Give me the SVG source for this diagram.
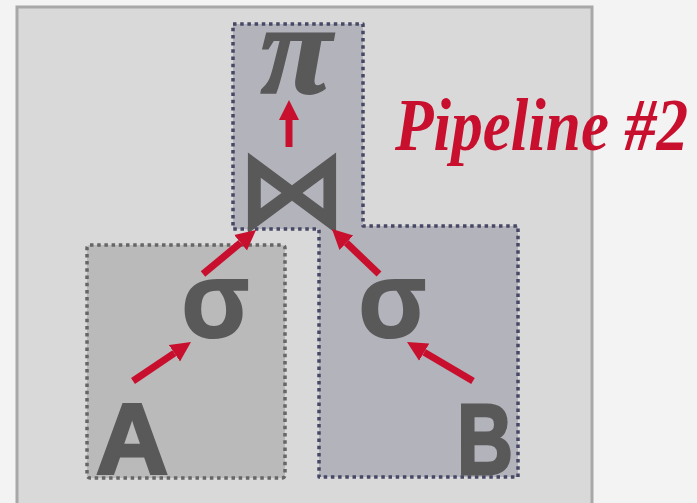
<svg xmlns="http://www.w3.org/2000/svg" width="697" height="503" viewBox="0 0 697 503">
<defs>
<style>
.glyph{fill:#595959;}
.conn line{stroke:#c8102e;stroke-width:7;marker-end:url(#ah);}
</style>
<marker id="ah" markerUnits="userSpaceOnUse" markerWidth="22" markerHeight="22" viewBox="0 -11 22 22" refX="0" refY="0" orient="auto">
<path d="M0,-10 L20,0 L0,10 z" fill="#c8102e"/>
</marker>
</defs>
<rect x="0" y="0" width="697" height="503" fill="#f3f3f3"/>
<rect id="frame" x="17" y="7" width="575" height="510" fill="#d9d9d9" stroke="#a8a8a8" stroke-width="3"/>
<g id="pipeline2">
<path d="M233,24 H363 V226 H518 V477 H319 V229 H233 Z" fill="#b3b3bb" stroke="#474766" stroke-width="3.5" stroke-dasharray="3.5 3.7" stroke-linejoin="round"/>
</g>
<g id="pipelineA">
<rect x="87" y="245" width="198" height="233" rx="3" fill="#bababa" stroke="#666666" stroke-width="3.5" stroke-dasharray="3.5 3.7"/>
</g>
<g id="pi"><text class="glyph" x="296" y="93" font-family="Liberation Serif" font-weight="bold" font-style="italic" font-size="130" text-anchor="middle" stroke="#595959" stroke-width="2">π</text></g>
<g id="join"><text class="glyph" x="292" y="228" font-family="DejaVu Sans" font-weight="bold" font-size="112" text-anchor="middle">⋈</text></g>
<g id="sigmaA"><text class="glyph" x="215" y="338" font-family="Open Sans" font-weight="bold" font-size="108" text-anchor="middle">σ</text></g>
<g id="sigmaB"><text class="glyph" x="392" y="338" font-family="Open Sans" font-weight="bold" font-size="108" text-anchor="middle">σ</text></g>
<g id="A"><text class="glyph" x="96" y="474" font-family="Liberation Sans" font-weight="bold" font-size="100" stroke="#595959" stroke-width="3">A</text></g>
<g id="B"><text class="glyph" x="457" y="474" font-family="Liberation Sans" font-weight="bold" font-size="100" stroke="#595959" stroke-width="3" textLength="56" lengthAdjust="spacingAndGlyphs">B</text></g>
<g id="label"><text x="395" y="150" font-family="Liberation Serif" font-weight="bold" font-style="italic" font-size="74" fill="#c8102e" textLength="293" lengthAdjust="spacingAndGlyphs">Pipeline #2</text></g>
<g id="connectors" class="conn">
<line x1="133" y1="381" x2="174.4" y2="353.2"/>
<line x1="203" y1="274" x2="240.6" y2="242.8"/>
<line x1="379" y1="274" x2="346.4" y2="242.8"/>
<line x1="473" y1="381" x2="424.2" y2="352.2"/>
<line x1="289" y1="147" x2="289" y2="120"/>
</g>
</svg>
